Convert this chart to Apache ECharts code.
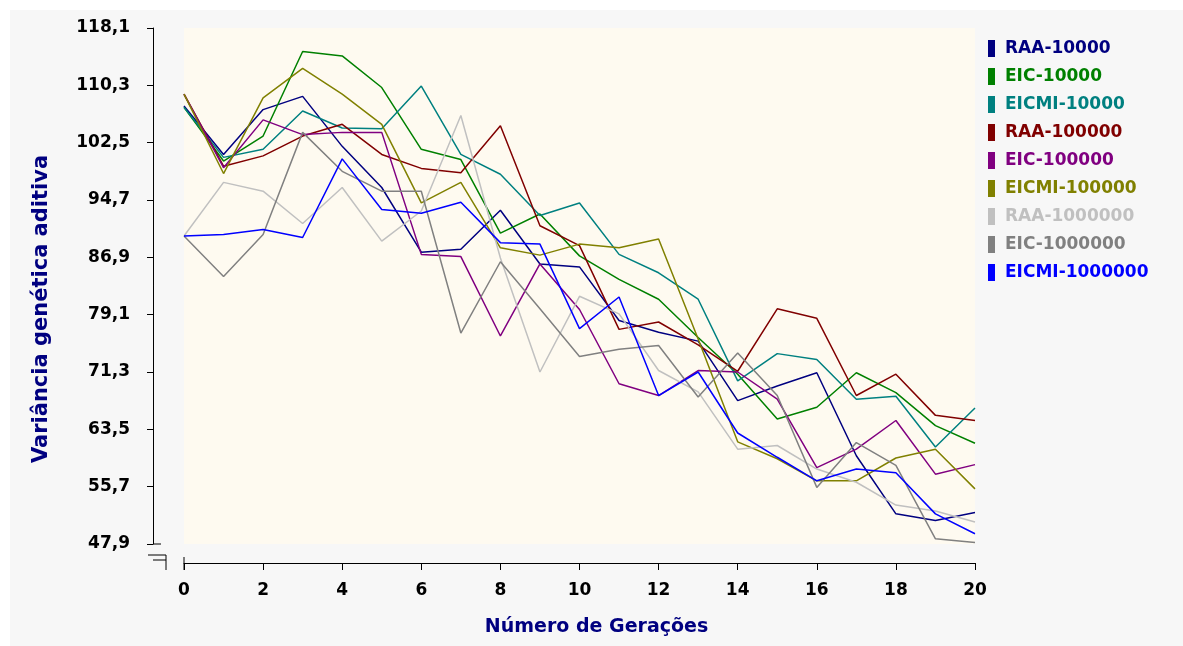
<!DOCTYPE html>
<html>
<head>
<meta charset="utf-8">
<script src="https://cdn.jsdelivr.net/npm/echarts@6/dist/echarts.min.js"></script>
<style>
  html, body { margin: 0; padding: 0; background: #ffffff; }
  #chart { width: 1183px; height: 646px; }
</style>
</head>
<body>
<div id="chart"></div>
<script>
// Generations on the horizontal axis
const generations = [0, 1, 2, 3, 4, 5, 6, 7, 8, 9, 10, 11, 12, 13, 14, 15, 16, 17, 18, 19, 20];

// Tick labels of the vertical axis (bottom to top)
const yTickLabels = ['47,9', '55,7', '63,5', '71,3', '79,1', '86,9', '94,7', '102,5', '110,3', '118,1'];

// Additive genetic variance per generation, one array per scenario
const raa10000      = [107.5, 100.9, 107.0, 108.8, 102.0, 96.4, 87.6, 88.0, 93.3, 86.0, 85.6, 78.3, 76.7, 75.5, 67.4, 69.4, 71.2, 59.9, 52.0, 51.1, 52.2];
const eic10000      = [107.3, 100.0, 103.4, 114.9, 114.3, 110.0, 101.6, 100.2, 90.2, 92.8, 87.1, 83.9, 81.2, 76.0, 71.0, 64.9, 66.5, 71.2, 68.5, 64.0, 61.6];
const eicmi10000    = [107.3, 100.5, 101.6, 106.8, 104.5, 104.4, 110.2, 100.9, 98.2, 92.6, 94.3, 87.3, 84.8, 81.2, 70.1, 73.8, 73.0, 67.6, 68.0, 61.1, 66.4];
const raa100000     = [109.1, 99.3, 100.7, 103.4, 105.0, 100.9, 99.0, 98.4, 104.8, 91.2, 88.5, 77.1, 78.1, 75.0, 71.4, 79.9, 78.6, 68.1, 71.0, 65.4, 64.7];
const eic100000     = [109.1, 99.1, 105.6, 103.6, 103.9, 103.9, 87.3, 87.0, 76.2, 86.0, 79.8, 69.7, 68.1, 71.5, 71.3, 67.6, 58.3, 60.8, 64.7, 57.4, 58.7];
const eicmi100000   = [109.1, 98.3, 108.6, 112.6, 109.1, 105.0, 94.3, 97.1, 88.2, 87.2, 88.7, 88.2, 89.4, 75.8, 61.8, 59.5, 56.5, 56.5, 59.6, 60.8, 55.4];
const raa1000000    = [89.8, 97.1, 95.9, 91.5, 96.4, 89.1, 93.2, 106.2, 86.8, 71.3, 81.6, 79.2, 71.5, 68.6, 60.8, 61.3, 58.1, 56.3, 53.2, 52.4, 50.9];
const eic1000000    = [89.8, 84.3, 90.0, 103.9, 98.6, 95.9, 95.9, 76.6, 86.3, 79.9, 73.4, 74.4, 74.9, 67.9, 73.9, 68.1, 55.6, 61.7, 58.6, 48.6, 48.1];
const eicmi1000000  = [89.8, 90.0, 90.7, 89.6, 100.3, 93.4, 92.9, 94.4, 88.9, 88.7, 77.2, 81.5, 68.1, 71.3, 63.0, 59.7, 56.5, 58.1, 57.6, 52.0, 49.3];

const seriesNames  = ['RAA-10000', 'EIC-10000', 'EICMI-10000', 'RAA-100000', 'EIC-100000', 'EICMI-100000', 'RAA-1000000', 'EIC-1000000', 'EICMI-1000000'];
const seriesValues = [raa10000, eic10000, eicmi10000, raa100000, eic100000, eicmi100000, raa1000000, eic1000000, eicmi1000000];
const seriesColors = ['#000080', '#008000', '#008080', '#800000', '#800080', '#808000', '#c0c0c0', '#808080', '#0000ff'];

const toNumber = s => parseFloat(s.replace(',', '.'));
const yMin = toNumber(yTickLabels[0]);
const yMax = toNumber(yTickLabels[yTickLabels.length - 1]);

const FONT = 'DejaVu Sans';
const TITLE_COLOR = '#000080';

const chart = echarts.init(document.getElementById('chart'), null, { renderer: 'canvas' });

chart.setOption({
  animation: false,
  backgroundColor: '#ffffff',
  graphic: [
    { type: 'rect', z: -10, silent: true, shape: { x: 10, y: 10, width: 1173, height: 636 }, style: { fill: '#f7f7f7' } },
    // broken-axis marks at the lower left corner
    { type: 'line', silent: true, shape: { x1: 153, y1: 544, x2: 161, y2: 544 }, style: { stroke: '#000', lineWidth: 1 } },
    { type: 'polyline', silent: true, shape: { points: [[148, 555], [166, 555], [166, 570]] }, style: { stroke: '#000', lineWidth: 1, fill: null } },
    { type: 'line', silent: true, shape: { x1: 153, y1: 560, x2: 166, y2: 560 }, style: { stroke: '#000', lineWidth: 1 } },
    { type: 'line', silent: true, shape: { x1: 184, y1: 557, x2: 184, y2: 570 }, style: { stroke: '#000', lineWidth: 1 } }
  ],
  grid: {
    left: 184, top: 28, width: 791, height: 516,
    show: true, backgroundColor: '#fefaf0', borderWidth: 0,
    containLabel: false
  },
  legend: {
    orient: 'vertical',
    left: 983, top: 35,
    icon: 'rect',
    itemWidth: 7, itemHeight: 17, itemGap: 11,
    selectedMode: false,
    textStyle: { fontFamily: FONT, fontWeight: 'bold', fontSize: 17, padding: [0, 0, 0, 5] },
    data: seriesNames.map((n, i) => ({ name: n, textStyle: { color: seriesColors[i] } }))
  },
  xAxis: {
    type: 'value',
    min: generations[0], max: generations[generations.length - 1], interval: 2,
    offset: 19,
    axisLine: { show: true, lineStyle: { color: '#000', width: 1 } },
    axisTick: { show: true, length: 7, lineStyle: { color: '#000' } },
    axisLabel: { color: '#000', fontFamily: FONT, fontWeight: 'bold', fontSize: 17, margin: 19 },
    splitLine: { show: false },
    name: 'Número de Gerações',
    nameLocation: 'middle',
    nameGap: 55,
    nameTextStyle: { color: TITLE_COLOR, fontFamily: FONT, fontWeight: 'bold', fontSize: 19, padding: [0, 0, 0, 34] }
  },
  yAxis: [
    {
      type: 'value', min: yMin, max: yMax, show: false, splitLine: { show: false }
    },
    {
      type: 'category', data: yTickLabels, boundaryGap: false,
      position: 'left', offset: 31,
      axisLine: { show: true, lineStyle: { color: '#000', width: 1 } },
      axisTick: { show: true, length: 6, lineStyle: { color: '#000' } },
      axisLabel: { color: '#000', fontFamily: FONT, fontWeight: 'bold', fontSize: 17, margin: 23 },
      splitLine: { show: false },
      name: 'Variância genética aditiva',
      nameLocation: 'middle',
      nameRotate: 90,
      nameGap: 101,
      nameTextStyle: { color: TITLE_COLOR, fontFamily: FONT, fontWeight: 'bold', fontSize: 21, padding: [0, 46, 0, 0] }
    }
  ],
  series: seriesNames.map((name, i) => ({
    name,
    type: 'line',
    yAxisIndex: 0,
    data: generations.map((g, k) => [g, seriesValues[i][k]]),
    showSymbol: false,
    symbol: 'none',
    color: seriesColors[i],
    lineStyle: { color: seriesColors[i], width: 1.5 },
    emphasis: { disabled: true }
  }))
});
</script>
</body>
</html>
